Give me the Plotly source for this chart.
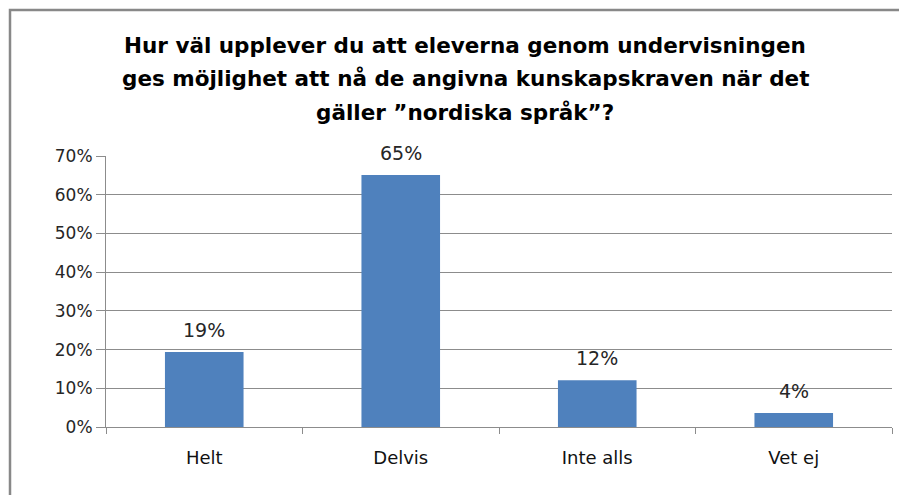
import plotly.graph_objects as go

categories = ["Helt", "Delvis", "Inte alls", "Vet ej"]
shares = [0.194, 0.651, 0.121, 0.036]
y_ticks = [0, 0.1, 0.2, 0.3, 0.4, 0.5, 0.6, 0.7]
title_lines = [
    "Hur väl upplever du att eleverna genom undervisningen",
    "ges möjlighet att nå de angivna kunskapskraven när det",
    "gäller \u201dnordiska språk\u201d?",
]

# page body has an 8px margin, so the figure is a bit smaller than the window
W, H = 899, 487
ML, MR, MT, MB = 98, 15, 148, 68
pw, ph = W - ML - MR, H - MT - MB


def px_x(x):
    return (x - ML) / pw


def px_y(y):
    return (H - MB - y) / ph


fig = go.Figure(go.Bar(
    x=categories, y=shares,
    marker=dict(color="#4F81BD", line=dict(width=0)),
))

for cat, val in zip(categories, shares):
    fig.add_annotation(
        x=cat, y=val, text=f"{round(val * 100)}%",
        yanchor="bottom", yshift=9, showarrow=False,
        font=dict(family="DejaVu Sans", size=19, color="#262626"),
    )

fig.update_layout(
    width=W, height=H,
    margin=dict(l=ML, r=MR, t=MT, b=MB),
    paper_bgcolor="white", plot_bgcolor="white",
    bargap=0.6,
    showlegend=False,
)
fig.update_xaxes(
    showline=True, linecolor="#8c8c8c", linewidth=1,
    ticks="outside", tickson="boundaries", ticklen=6, tickcolor="#8c8c8c",
    tickfont=dict(family="DejaVu Sans", size=18, color="#111"),
    ticklabelstandoff=14,
    showgrid=False,
)
fig.update_yaxes(
    range=[0, 0.7], tickvals=y_ticks, tickformat=".0%",
    showline=True, linecolor="#8c8c8c", linewidth=1,
    ticks="outside", ticklen=9, tickcolor="#8c8c8c",
    showgrid=True, gridcolor="#8c8c8c", gridwidth=1,
    tickfont=dict(family="DejaVu Sans", size=17, color="#262626"),
    zeroline=False,
)

for i, line in enumerate(title_lines):
    fig.add_annotation(
        text=line,
        xref="paper", yref="paper",
        x=px_x(457), y=px_y(37 + 33.5 * i), xanchor="center", yanchor="middle",
        showarrow=False,
        font=dict(family="DejaVu Sans", size=21.5, color="#000", weight="bold"),
    )

fig.add_shape(
    type="rect", xref="paper", yref="paper",
    x0=px_x(2), x1=px_x(930), y0=px_y(2), y1=px_y(520),
    line=dict(color="#888888", width=2.5), layer="below",
)

fig.write_html("out.html")
